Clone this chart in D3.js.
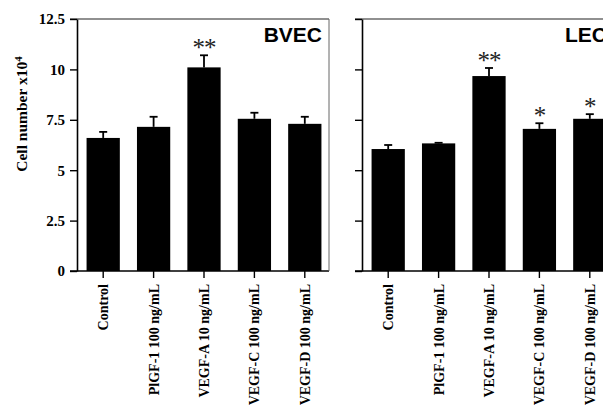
<!DOCTYPE html>
<html>
<head>
<meta charset="utf-8">
<script src="https://cdn.jsdelivr.net/npm/d3@7"></script>
<style>
	body { margin: 0; background: #fff; }
	svg { display: block; }
</style>
</head>
<body>
<svg></svg>
<script>
const categories = ['Control', 'PlGF-1 100 ng/mL', 'VEGF-A 10 ng/mL', 'VEGF-C 100 ng/mL', 'VEGF-D 100 ng/mL'];
const bvecValues = [6.6, 7.15, 10.1, 7.55, 7.3];
const bvecErrors = [0.3, 0.5, 0.6, 0.3, 0.35];
const bvecStars = ['', '', '**', '', ''];
const lecValues = [6.05, 6.33, 9.67, 7.05, 7.55];
const lecErrors = [0.2, 0.03, 0.4, 0.28, 0.23];
const lecStars = ['', '', '**', '*', '*'];
const yTicks = [0, 2.5, 5, 7.5, 10, 12.5];

const width = 603,
	height = 406,
	plotTop = 19,
	plotBottom = 271,
	panelWidth = 252,
	serif = '"Liberation Serif", "Times New Roman", serif',
	sans = '"Liberation Sans", Arial, sans-serif';

const svg = d3.select('svg').attr('width', width).attr('height', height);

const yScale = d3.scaleLinear().domain([ 0, 12.5 ]).range([ plotBottom, plotTop ]);

// y axis title
svg
	.append('text')
	.attr('transform', 'rotate(-90)')
	.attr('x', -114)
	.attr('y', 27)
	.attr('text-anchor', 'middle')
	.attr('font-family', serif)
	.attr('font-weight', 'bold')
	.attr('font-size', '15.5px')
	.text('Cell number x10')
	.append('tspan')
	.attr('dy', '-0.45em')
	.attr('font-size', '11px')
	.text('4');

function panel(left, values, errors, stars, name, showLabels, rightBorder) {
	const g = svg.append('g');
	const xScale = d3
		.scaleBand()
		.domain(categories)
		.range([ left + 1, left + 1 + panelWidth ])
		.paddingInner(0.34)
		.paddingOuter(0.17);

	// frame lines
	g.append('line')
		.attr('x1', left - 7).attr('x2', rightBorder)
		.attr('y1', plotTop).attr('y2', plotTop)
		.attr('stroke', '#222').attr('stroke-width', 1.2);
	g.append('line')
		.attr('x1', left - 7).attr('x2', rightBorder)
		.attr('y1', plotBottom).attr('y2', plotBottom)
		.attr('stroke', '#000').attr('stroke-width', 1.6);
	if (rightBorder < width) {
		g.append('line')
			.attr('x1', rightBorder).attr('x2', rightBorder)
			.attr('y1', plotTop).attr('y2', plotBottom)
			.attr('stroke', '#666').attr('stroke-width', 1);
	}

	// bars
	g.selectAll('rect')
		.data(values)
		.enter()
		.append('rect')
		.attr('x', (d, i) => xScale(categories[i]))
		.attr('y', (d) => yScale(d))
		.attr('width', xScale.bandwidth())
		.attr('height', (d) => plotBottom - yScale(d))
		.attr('fill', '#000');

	// error bars
	const err = g.selectAll('g.err').data(values).enter().append('g').attr('class', 'err');
	err.append('line')
		.attr('x1', (d, i) => xScale(categories[i]) + xScale.bandwidth() / 2)
		.attr('x2', (d, i) => xScale(categories[i]) + xScale.bandwidth() / 2)
		.attr('y1', (d) => yScale(d))
		.attr('y2', (d, i) => yScale(d + errors[i]))
		.attr('stroke', '#000').attr('stroke-width', 1.8);
	err.append('line')
		.attr('x1', (d, i) => xScale(categories[i]) + xScale.bandwidth() / 2 - 4)
		.attr('x2', (d, i) => xScale(categories[i]) + xScale.bandwidth() / 2 + 4)
		.attr('y1', (d, i) => yScale(d + errors[i]))
		.attr('y2', (d, i) => yScale(d + errors[i]))
		.attr('stroke', '#000').attr('stroke-width', 1.8);

	// significance stars
	g.selectAll('text.star')
		.data(values)
		.enter()
		.append('text')
		.attr('class', 'star')
		.attr('x', (d, i) => xScale(categories[i]) + xScale.bandwidth() / 2)
		.attr('y', (d, i) => yScale(d + errors[i]) + 1)
		.attr('text-anchor', 'middle')
		.attr('font-family', serif)
		.attr('font-size', '25px')
		.attr('letter-spacing', '-1px')
		.attr('fill', '#222')
		.text((d, i) => stars[i]);

	// y axis
	const yAxis = d3
		.axisLeft(yScale)
		.tickValues(yTicks)
		.tickSize(7)
		.tickSizeOuter(0)
		.tickPadding(5)
		.tickFormat(showLabels ? (d) => String(d) : '');
	const ya = g.append('g').attr('transform', 'translate(' + left + ',0)').call(yAxis);
	ya.select('.domain').attr('stroke', '#000').attr('stroke-width', 1.6);
	ya.selectAll('.tick line').attr('stroke', '#000').attr('stroke-width', 1.4);
	ya.selectAll('text')
		.attr('font-family', serif)
		.attr('font-weight', 'bold')
		.attr('font-size', '15px')
		.attr('fill', '#000');

	// x axis
	const xAxis = d3.axisBottom(xScale).tickSize(7).tickSizeOuter(0);
	const xa = g.append('g').attr('transform', 'translate(0,' + plotBottom + ')').call(xAxis);
	xa.select('.domain').remove();
	xa.selectAll('.tick line').attr('stroke', '#000').attr('stroke-width', 1.4);
	xa.selectAll('text')
		.attr('transform', 'rotate(-90)')
		.attr('x', -13)
		.attr('y', 0)
		.attr('dy', '0.35em')
		.attr('text-anchor', 'end')
		.attr('font-family', serif)
		.attr('font-weight', 'bold')
		.attr('font-size', '14px')
		.attr('fill', '#000');

	// panel name
	g.append('text')
		.attr('x', left + 245)
		.attr('y', 42)
		.attr('text-anchor', 'end')
		.attr('font-family', sans)
		.attr('font-weight', 'bold')
		.attr('font-size', '21px')
		.text(name);
}

panel(77, bvecValues, bvecErrors, bvecStars, 'BVEC', true, 329);
panel(362, lecValues, lecErrors, lecStars, 'LEC', false, width);
</script>
</body>
</html>
